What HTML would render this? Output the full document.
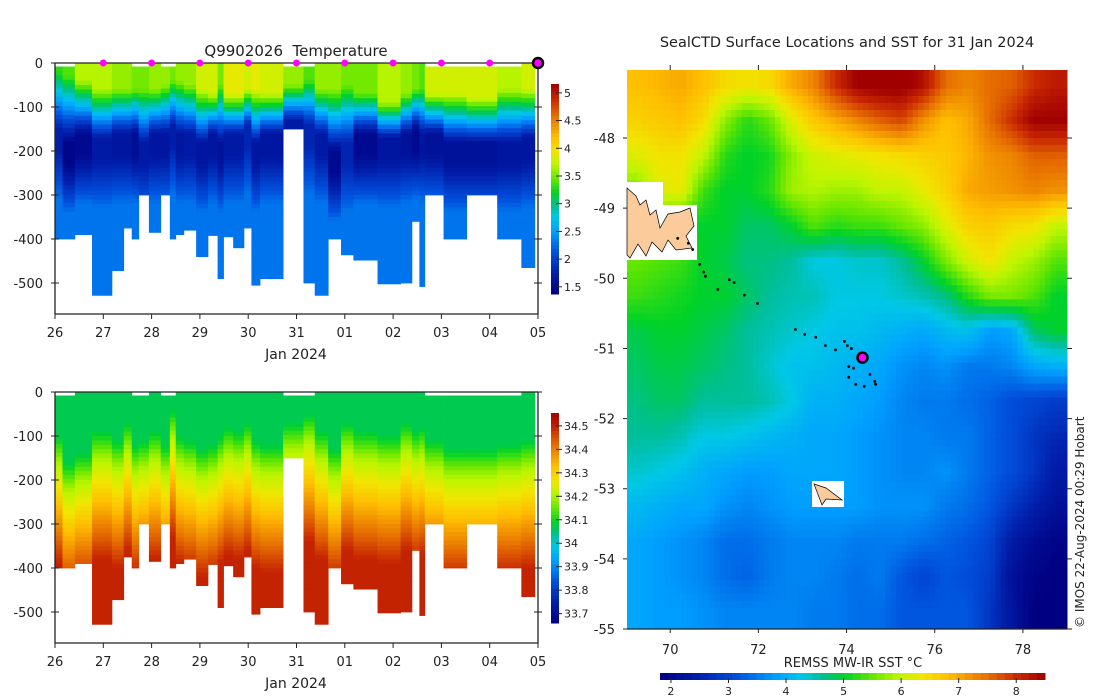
<!DOCTYPE html>
<html><head><meta charset="utf-8">
<style>
body{margin:0;background:#fff;}
svg{display:block;font-family:"DejaVu Sans","Liberation Sans",sans-serif;}
text{fill:#222;white-space:pre;}
</style></head>
<body>
<svg id="root" width="1100" height="700" viewBox="0 0 1100 700" xmlns="http://www.w3.org/2000/svg">
<rect width="1100" height="700" fill="#fff"/>
<g id="tplot"></g>
<g id="splot"></g>
<g id="map"></g>
<text x="296" y="56" font-size="15" text-anchor="middle" xml:space="preserve">Q9902026  Temperature</text>
<text x="847" y="47" font-size="14.5" text-anchor="middle">SealCTD Surface Locations and SST for 31 Jan 2024</text>
<text x="853" y="667" font-size="13" text-anchor="middle">REMSS MW-IR SST °C</text>
<text transform="translate(1084,628) rotate(-90)" font-size="12">© IMOS 22-Aug-2024 00:29 Hobart</text>
</svg>
<script>
// ---- profile section data (days since 26 Jan) ----
const colStartDays=[0,0.14,0.37,0.69,1.06,1.28,1.43,1.56,1.75,1.97,2.14,2.25,2.40,2.63,2.85,3.03,3.14,3.32,3.52,3.66,3.82,4.25,4.63,4.84,5.09,5.33,5.56,6.01,6.44,6.65,6.79,6.89,7.24,7.67,8.24,8.69];
const colEndDays=[0.14,0.37,0.69,1.06,1.28,1.43,1.56,1.75,1.97,2.14,2.25,2.40,2.63,2.85,3.03,3.14,3.32,3.52,3.66,3.82,4.25,4.63,4.84,5.09,5.33,5.56,6.01,6.44,6.65,6.79,6.89,7.24,7.67,8.24,8.69,8.94];
const colMaxDepth=[400,400,390,528,472,375,400,300,385,300,400,390,380,440,392,490,395,420,375,505,490,150,500,528,400,436,448,502,500,360,508,300,400,300,400,465];
const colTopDepth=[8,8,0,0,0,0,8,8,0,8,8,0,0,0,0,0,0,0,0,0,0,8,8,0,0,0,0,0,0,0,0,8,8,8,8,0];
const surfTemp=[3.3,3.4,3.7,3.7,3.6,3.6,3.5,3.5,3.6,3.6,3.5,3.6,3.6,3.8,3.8,3.5,3.9,3.9,3.8,3.9,3.8,3.6,3.4,3.6,3.6,3.5,3.5,3.7,3.6,3.5,3.4,3.8,3.8,3.8,3.7,3.8];
const mixedDepth=[20,30,40,60,60,60,60,60,60,50,40,40,50,60,70,50,70,70,60,60,70,50,40,60,60,50,70,90,70,60,60,70,70,80,60,60];
const minTemp=[1.75,1.45,1.5,1.7,1.65,1.65,1.55,1.7,1.65,1.65,1.75,1.65,1.7,1.65,1.65,1.6,1.7,1.7,1.8,1.65,1.65,1.7,1.8,1.7,1.5,1.8,1.5,1.65,1.6,1.5,1.65,1.6,1.6,1.6,1.65,1.65];
const minTempDepth=[150,180,160,170,160,160,160,180,160,160,140,160,160,180,160,180,160,160,140,180,160,130,140,160,200,180,160,170,160,150,160,160,180,180,180,170];
const haloDepth=[160,220,200,150,170,130,180,170,150,180,100,160,170,190,180,160,140,150,130,170,180,130,110,150,190,130,150,160,130,150,140,170,190,190,180,170];
const deepTemp=2.3;
const dayTicks=["26","27","28","29","30","31","01","02","03","04","05"];
const depthTicks=[0,-100,-200,-300,-400,-500];
const tempCbTicks=[1.5,2,2.5,3,3.5,4,4.5,5];
const salCbTicks=[33.7,33.8,33.9,34,34.1,34.2,34.3,34.4,34.5];
const markerTicks=[1,2,3,4,5,6,7,8,9];
// ---- map data ----
const sstTicks=[2,3,4,5,6,7,8];
const lonTicks=[70,72,74,76,78];
const latTicks=[-48,-49,-50,-51,-52,-53,-54,-55];
const sstGrid=[
[6.8,6.9,7.0,6.8,6.5,6.4,6.5,7.0,7.3,8.0,8.5,8.6,8.6,8.3,7.5,7.3,7.5,7.6,8.0,8.2],
[6.6,6.7,6.8,6.5,5.7,5.2,5.5,6.2,6.7,7.0,7.3,7.6,7.8,7.2,6.8,7.0,7.5,8.0,8.5,8.5],
[6.2,6.4,6.4,6.0,5.2,5.0,5.1,5.7,6.1,6.2,6.3,6.4,6.5,6.6,6.7,6.9,7.2,7.3,7.6,7.6],
[5.6,6.2,6.3,5.3,5.0,5.0,5.2,5.8,5.9,5.8,5.8,6.0,6.0,6.3,6.6,7.0,7.1,7.2,7.3,7.2],
[5.4,5.3,5.1,5.0,5.0,4.8,4.8,5.0,5.4,5.2,5.3,5.3,5.5,5.7,6.2,6.6,6.7,6.5,6.4,6.0],
[5.5,5.4,5.3,5.0,4.9,4.7,4.7,4.6,4.3,4.3,4.4,4.4,4.6,5.0,5.6,6.1,6.4,6.0,5.8,5.4],
[5.3,5.2,5.1,5.0,5.0,4.8,4.6,4.5,4.5,4.3,4.3,4.3,4.4,4.5,4.7,5.2,5.6,5.6,5.4,5.0],
[4.9,5.0,5.0,4.9,4.8,4.6,4.5,4.4,4.3,4.2,4.2,4.1,4.0,3.9,4.1,4.2,3.8,3.9,4.8,5.0],
[4.8,4.9,4.9,4.8,4.7,4.6,4.4,4.2,4.2,4.1,4.0,3.9,3.7,3.6,3.7,3.5,3.5,3.6,3.9,4.0],
[4.7,4.8,4.8,4.6,4.6,4.6,4.5,4.3,4.0,4.0,3.9,3.8,3.6,3.5,3.5,3.4,3.3,3.1,3.0,2.9],
[4.6,4.6,4.5,4.3,4.3,4.2,4.1,4.0,3.9,3.9,3.8,3.7,3.6,3.6,3.5,3.5,3.3,3.1,2.8,2.6],
[4.4,4.3,4.2,4.0,3.9,3.8,3.8,3.9,3.9,3.9,3.8,3.7,3.6,3.6,3.7,3.5,3.3,3.1,2.8,2.4],
[4.1,4.0,3.9,3.9,3.7,3.6,3.7,3.8,3.8,3.8,3.8,3.7,3.7,3.7,3.5,3.4,3.2,2.8,2.5,2.2],
[3.9,3.8,3.7,3.6,3.4,3.4,3.5,3.6,3.6,3.6,3.5,3.5,3.5,3.4,3.3,3.2,3.0,2.4,2.1,1.9],
[3.9,3.8,3.7,3.6,3.4,3.3,3.5,3.6,3.6,3.5,3.4,3.5,3.2,3.0,3.2,3.1,2.9,2.2,1.9,1.8],
[3.9,3.8,3.8,3.7,3.6,3.6,3.6,3.6,3.5,3.5,3.4,3.4,3.2,3.2,3.2,3.2,2.8,2.3,1.8,1.8]];
const trackLon=[70.17,70.41,70.51,70.67,70.76,70.80,71.08,71.34,71.45,71.68,71.98,72.84,73.05,73.30,73.52,73.75,73.95,74.02,74.11,74.05,74.16,74.05,74.21,74.40,74.53,74.64,74.66];
const trackLat=[-49.43,-49.50,-49.59,-49.80,-49.91,-49.97,-50.16,-50.02,-50.06,-50.24,-50.36,-50.73,-50.80,-50.84,-50.96,-51.02,-50.90,-50.96,-51.00,-51.26,-51.28,-51.41,-51.51,-51.54,-51.37,-51.47,-51.51];
const currentLon=[74.36];
const currentLat=[-51.13];

const NS="http://www.w3.org/2000/svg";
const stops=[[0,0,0,130],[0.1,0,30,170],[0.2,0,80,220],[0.3,0,160,255],[0.37,0,200,230],[0.42,0,190,150],[0.48,0,210,40],[0.55,100,230,0],[0.62,190,245,0],[0.68,240,230,0],[0.75,255,190,0],[0.85,230,110,0],[0.93,200,40,0],[1,160,0,0]];
function cmap(t){t=Math.max(0,Math.min(1,t));for(let i=1;i<stops.length;i++){if(t<=stops[i][0]){const a=stops[i-1],b=stops[i],f=(t-a[0])/(b[0]-a[0]);return `rgb(${Math.round(a[1]+(b[1]-a[1])*f)},${Math.round(a[2]+(b[2]-a[2])*f)},${Math.round(a[3]+(b[3]-a[3])*f)})`;}}return "rgb(160,0,0)";}
function el(tag,attrs,parent){const e=document.createElementNS(NS,tag);for(const k in attrs)e.setAttribute(k,attrs[k]);parent.appendChild(e);return e;}
function txt(s,attrs,parent){const e=el("text",attrs,parent);e.textContent=s;return e;}

const X0=55,X1=538,DAYS=10;
const xDay=d=>X0+d*(X1-X0)/9;          // column positions (calibrated scale)
const xTick=k=>X0+k*(X1-X0)/DAYS;       // day tick positions
const TMIN=1.37,TMAX=5.16,SMIN=33.66,SMAX=34.555;
function tempAt(i,d){
  if(d<=mixedDepth[i])return surfTemp[i];
  if(d<=minTempDepth[i])return surfTemp[i]+(minTemp[i]-surfTemp[i])*(d-mixedDepth[i])/(minTempDepth[i]-mixedDepth[i]);
  if(d<=minTempDepth[i]+50)return minTemp[i];
  const f=Math.min(1,(d-minTempDepth[i]-50)/110);return minTemp[i]+(deepTemp-minTemp[i])*f;
}
function salAt(i,d){
  const h=haloDepth[i];
  if(d<h-60)return 34.07;
  if(d<h)return 34.07+0.13*(d-(h-60))/60;
  return Math.min(34.5,34.2+(d-h)*0.0013);
}
function section(gid,y0,valFn,vmin,vmax,ticks){
  const g=document.getElementById(gid);
  const yD=m=>y0+m*0.44;
  for(let i=0;i<colStartDays.length;i++){
    const xa=xDay(colStartDays[i]),xb=xDay(colEndDays[i]);
    for(let d=colTopDepth[i];d<colMaxDepth[i];d+=10){
      const d2=Math.min(d+10,colMaxDepth[i]);
      const v=valFn(i,d+5);
      const r=el("rect",{x:xa.toFixed(2),y:yD(d).toFixed(2),width:(xb-xa+0.4).toFixed(2),height:(yD(d2)-yD(d)+0.4).toFixed(2),fill:cmap((v-vmin)/(vmax-vmin))},g);
      
      
    }
  }
  const yB=y0+251;
  const ax=el("path",{d:`M${X0} ${y0}H${X1}M${X0} ${y0}V${yB}H${X1}V${y0}`,stroke:"#222","stroke-width":1.3,fill:"none"},g);
  
  
  depthTicks.forEach(v=>{
    const y=yD(-v);
    el("path",{d:`M${X0-4} ${y}H${X0+4}M${X1-4} ${y}H${X1+4}`,stroke:"#222","stroke-width":1},g);
    const t=txt(String(v),{x:X0-12,y:y+5,"font-size":13,"text-anchor":"end"},g);
    
    
  });
  dayTicks.forEach((lab,k)=>{
    const x=xTick(k);
    el("path",{d:`M${x} ${yB}V${yB+5}`,stroke:"#222","stroke-width":1},g);
    const t=txt(lab,{x:x,y:yB+23,"font-size":13,"text-anchor":"middle"},g);
    
    
  });
  const xl=txt("Jan 2024",{x:296,y:yB+45,"font-size":14,"text-anchor":"middle"},g);
  
  
  const cy0=y0+21,cy1=y0+231,cx=551,cw=8;
  const n=60;
  for(let k=0;k<n;k++){
    const r=el("rect",{x:cx,y:(cy1-(k+1)*(cy1-cy0)/n).toFixed(2),width:cw,height:((cy1-cy0)/n+0.5).toFixed(2),fill:cmap((k+0.5)/n)},g);
    
    
  }
  ticks.forEach(v=>{
    const y=cy1-(v-vmin)/(vmax-vmin)*(cy1-cy0);
    el("path",{d:`M${cx+cw-3} ${y}H${cx+cw+3}`,stroke:"#222","stroke-width":1},g);
    const t=txt(String(v),{x:cx+cw+5,y:y+4,"font-size":11},g);
    
    
  });
}
section("tplot",63,tempAt,TMIN,TMAX,tempCbTicks);
section("splot",392,salAt,SMIN,SMAX,salCbTicks);
(function(){
  const g=document.getElementById("tplot");
  markerTicks.forEach(k=>{
    const c=el("circle",{cx:xTick(k),cy:63,r:3.5,fill:"#ff00ff"},g);
    
    
  });
  const c=el("circle",{cx:xTick(10),cy:63,r:5,fill:"#ff00ff",stroke:"#000","stroke-width":2.5},g);
  
  
})();
(function(){
  const g=document.getElementById("map");
  const MX0=627,MX1=1067,MY0=70,MY1=629,LON0=69.02,LON1=79,LAT0=-47.03,LAT1=-55;
  const xL=lon=>MX0+(lon-LON0)*(MX1-MX0)/(LON1-LON0);
  const yL=lat=>MY0+(lat-LAT0)*(MY1-MY0)/(LAT1-LAT0);
  const SMN=1.81,SMX=8.5;
  function sstAt(lon,lat){
    let fx=(lon-69.25)/0.5,fy=(-47.25-lat)/0.5;
    fx=Math.max(0,Math.min(19,fx));fy=Math.max(0,Math.min(15,fy));
    const i0=Math.min(18,Math.floor(fx)),j0=Math.min(14,Math.floor(fy)),ax=fx-i0,ay=fy-j0;
    const a=sstGrid[j0][i0],b=sstGrid[j0][i0+1],c=sstGrid[j0+1][i0],d=sstGrid[j0+1][i0+1];
    return (a*(1-ax)+b*ax)*(1-ay)+(c*(1-ax)+d*ax)*ay;
  }
  const dl=0.125,dt=0.1;
  for(let lat=-47;lat>-55;lat-=dt){
    for(let lon=69;lon<79;lon+=dl){
      const v=sstAt(lon+dl/2,lat-dt/2);
      const x=Math.max(MX0,xL(lon)),y=Math.max(MY0,yL(lat));
      const x2=Math.min(MX1,xL(lon+dl)),y2=Math.min(MY1,yL(lat-dt));
      if(x2<=x||y2<=y)continue;
      const r=el("rect",{x:x.toFixed(1),y:y.toFixed(1),width:(x2-x+0.5).toFixed(1),height:(y2-y+0.5).toFixed(1),fill:cmap((v-SMN)/(SMX-SMN))},g);
      
      
    }
  }
  const w1=el("path",{d:"M627 182H663V205H697V260H627Z",fill:"#fff"},g);
  
  
  const k=el("path",{d:"M627 188L636 196L640 205L646 200L650 215L656 210L660 228L668 214L680 212L690 208L694 226L686 236L692 248L676 250L668 240L662 252L652 242L646 256L638 244L630 258L627 255Z",fill:"#fccb9c",stroke:"#000","stroke-width":0.7},g);
  
  
  const w2=el("path",{d:"M812 481H844V507H812Z",fill:"#fff"},g);
  
  
  const h=el("path",{d:"M814 484L826 488L842 500L826 499L822 505Z",fill:"#fccb9c",stroke:"#000","stroke-width":0.7},g);
  
  
  trackLon.forEach((lon,i)=>{
    const c=el("circle",{cx:xL(lon),cy:yL(trackLat[i]),r:1.4,fill:"#000"},g);
    
    
  });
  const cur=el("circle",{cx:xL(currentLon[0]),cy:yL(currentLat[0]),r:5,fill:"#ff00ff",stroke:"#000","stroke-width":2.5},g);
  
  
  const fr=el("path",{d:`M${MX0} ${MY1}H${MX1}`,stroke:"#222","stroke-width":1.3},g);
  
  
  lonTicks.forEach(v=>{
    const x=xL(v);
    el("path",{d:`M${x} ${MY0}V${MY0-5}M${x} ${MY1}V${MY1+4}`,stroke:"#222","stroke-width":1},g);
    const t=txt(String(v),{x:x,y:MY1+25,"font-size":13,"text-anchor":"middle"},g);
    
    
  });
  latTicks.forEach(v=>{
    const y=yL(v);
    el("path",{d:`M${MX0-4} ${y}H${MX0}M${MX1} ${y}H${MX1+5}`,stroke:"#222","stroke-width":1},g);
    const t=txt(String(v),{x:MX0-12,y:y+5,"font-size":13,"text-anchor":"end"},g);
    
    
  });
  const cx0=660,cx1=1045,cy=673,ch=7,n=48;
  for(let k2=0;k2<n;k2++){
    const r=el("rect",{x:(cx0+k2*(cx1-cx0)/n).toFixed(2),y:cy,width:((cx1-cx0)/n+0.5).toFixed(2),height:ch,fill:cmap((k2+0.5)/n)},g);
    
    
  }
  sstTicks.forEach(v=>{
    const x=cx0+(v-SMN)/(SMX-SMN)*(cx1-cx0);
    el("path",{d:`M${x} ${cy+ch-2}V${cy+ch+3}`,stroke:"#222","stroke-width":1},g);
    const t=txt(String(v),{x:x,y:cy+22,"font-size":11,"text-anchor":"middle"},g);
    
    
  });
})();
</script>
</body></html>
